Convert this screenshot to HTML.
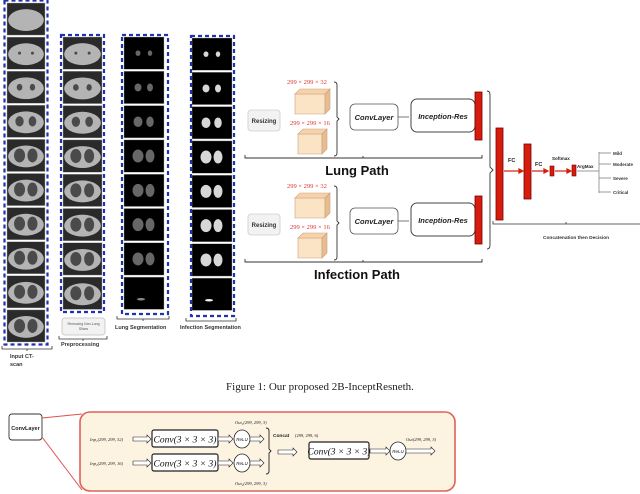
<!DOCTYPE html>
<html><head><meta charset="utf-8"><style>
body{margin:0;background:#fff}
svg{display:block}
text{font-family:"Liberation Sans",sans-serif}
.s{font-family:"Liberation Serif",serif}
</style></head><body>
<svg id="sv" width="640" height="494" viewBox="0 0 640 494" xmlns="http://www.w3.org/2000/svg">
<g id="tiles"></g>
<g fill="none" stroke="#2233aa" stroke-width="2.2" stroke-dasharray="4,3">
<rect x="4.5" y="0.5" width="43" height="344"/>
<rect x="61" y="35" width="43" height="277"/>
<rect x="122" y="35" width="46" height="279"/>
<rect x="191" y="36" width="43" height="280"/>
</g>
<rect x="62" y="318" width="43" height="17" rx="3" fill="#f2f2f2" stroke="#ccc"/>
<text x="83.5" y="325" font-size="3.5" text-anchor="middle" fill="#555">Removing Non-Lung</text>
<text x="83.5" y="330" font-size="3.5" text-anchor="middle" fill="#555">Slices</text>
<g fill="none" stroke="#333" stroke-width="0.8">
<path d="M2,346 v3 h50 v-3 M27,349 v2"/>
<path d="M59,336 v3 h48 v-3 M83,339 v2"/>
<path d="M117,316 v3 h52 v-3 M143,319 v2"/>
<path d="M186,318 v3 h50 v-3"/>
</g>
<g font-size="5.5" font-weight="bold" fill="#333">
<text x="10" y="358">Input CT-</text><text x="10" y="366">scan</text>
<text x="61" y="346">Preprocessing</text>
<text x="115" y="329">Lung Segmentation</text>
<text x="180" y="329">Infection Segmentation</text>
</g>

<g id="paths"></g>

<path d="M487,91 q3,0 3,4 v72 l3,3 l-3,3 v72 q0,4 -3,4" fill="none" stroke="#333" stroke-width="0.9"/>
<rect x="496" y="128" width="7" height="92" fill="#d61c0c" stroke="#700" stroke-width="0.8"/>
<rect x="524" y="144" width="7" height="55" fill="#d61c0c" stroke="#700" stroke-width="0.8"/>
<rect x="550" y="166" width="4" height="10" fill="#d61c0c" stroke="#700" stroke-width="0.6"/>
<rect x="572" y="165" width="4" height="11" fill="#d61c0c" stroke="#700" stroke-width="0.6"/>
<g stroke="#d61c0c" stroke-width="1.2" fill="#d61c0c">
<line x1="504" y1="171" x2="520" y2="171"/><path d="M523,171 l-4,-2 v4z"/>
<line x1="532" y1="171" x2="545" y2="171"/><path d="M548,171 l-4,-2 v4z"/>
<line x1="555" y1="171" x2="568" y2="171"/><path d="M571,171 l-4,-2 v4z"/>
</g>
<g font-size="5.5" font-weight="bold" fill="#222">
<text x="508" y="162">FC</text><text x="535" y="166">FC</text>
<text x="552" y="160" font-size="4.5">Softmax</text>
<text x="577" y="168" font-size="4.5">ArgMax</text>
</g>
<g stroke="#777" stroke-width="0.7" fill="none">
<path d="M577,171 h22 M599,152 v41 M599,153 h12 M599,164 h12 M599,178 h12 M599,192 h12"/>
</g>
<g font-size="4.5" font-weight="bold" fill="#333">
<text x="613" y="155">Mild</text><text x="613" y="166">Moderate</text>
<text x="613" y="180">Severe</text><text x="613" y="194">Critical</text>
</g>
<path d="M493,221 v3 h147 M566,224 v-2" fill="none" stroke="#333" stroke-width="0.8"/>
<text x="543" y="239" font-size="4.8" font-weight="bold" fill="#333">Concatenation then Decision</text>

<text class="s" x="320" y="390" font-size="11" text-anchor="middle" fill="#222">Figure 1: Our proposed 2B-InceptResneth.</text>

<rect x="9" y="414" width="33" height="26" rx="3" fill="#fff" stroke="#333" stroke-width="0.9"/>
<text x="25.5" y="430" font-size="5.5" font-weight="bold" text-anchor="middle" fill="#222">ConvLayer</text>
<path d="M42,418 L82,414 M42,437 L82,490" stroke="#d9534f" stroke-width="1"/>
<rect x="80" y="412" width="375" height="79" rx="10" fill="#fdf3e1" stroke="#e0605a" stroke-width="1.6"/>
<g id="bot"></g>
</svg>
<script>
var NS="http://www.w3.org/2000/svg";
function el(p,t,a,txt){var e=document.createElementNS(NS,t);for(var k in a)e.setAttribute(k,a[k]);if(txt)e.textContent=txt;p.appendChild(e);return e;}
var T=document.getElementById('tiles');
function col(x,w,y0,n,step,mode){
 for(var i=0;i<n;i++){var y=y0+i*step,h=step-2;
  el(T,'rect',{x:x,y:y,width:w,height:h,fill:mode==0?'#2a2a2a':'#000',stroke:'#aaa','stroke-width':0.4});
  var cx=x+w/2,cy=y+h/2;
  if(mode==0){el(T,'ellipse',{cx:cx,cy:cy+1,rx:w*0.47,ry:h*0.34,fill:'#b4b4b4'});
   if(!(x<20&&i==0)){var k=(x<20)?i-1:i;var s=Math.min(1,k/3);
   el(T,'ellipse',{cx:cx-w*0.17,cy:cy,rx:1.5+s*4,ry:1.5+s*5.5,fill:'#4a4a4a'});
   el(T,'ellipse',{cx:cx+w*0.17,cy:cy,rx:1.5+s*3.5,ry:1.5+s*5.5,fill:'#4a4a4a'});}}
  else{var s=Math.min(1,(i+1)/4);var c=mode==1?'#8a8a8a':'#eee';
   if(i<7){el(T,'ellipse',{cx:cx-w*0.15,cy:cy,rx:1.5+s*4,ry:1.5+s*5,fill:c,opacity:mode==1?0.75:0.9});
   el(T,'ellipse',{cx:cx+w*0.15,cy:cy,rx:1.5+s*3,ry:1.5+s*5,fill:c,opacity:mode==1?0.75:0.9});}
   else el(T,'ellipse',{cx:cx-3,cy:cy+6,rx:4,ry:1.2,fill:c});}
 }}
col(7,38,3,10,34.1,0);col(63,39,37,8,34.3,0);col(124,40,37,8,34.3,1);col(192,40,38,8,34.3,2);
var P=document.getElementById('paths');
function path(dy,name){
 el(P,'rect',{x:248,y:110+dy,width:32,height:21,rx:3,fill:'#f2f2f2',stroke:'#ccc','stroke-width':0.8});
 el(P,'text',{x:264,y:123+dy,'font-size':6,'text-anchor':'middle',fill:'#333','font-weight':'bold'},'Resizing');
 el(P,'text',{x:287,y:84+dy,'font-size':6.5,fill:'#d33',class:'s'},'299 × 299 × 32');
 el(P,'text',{x:290,y:125+dy,'font-size':6.5,fill:'#d33',class:'s'},'299 × 299 × 16');
 function cube(x,y,w,h,d){el(P,'path',{d:'M'+x+','+(y+d)+' h'+w+' v'+h+' h'+(-w)+'z',fill:'#fbe3c6',stroke:'#c9a27a','stroke-width':0.6});
  el(P,'path',{d:'M'+x+','+(y+d)+' l'+d+','+(-d)+' h'+w+' l'+(-d)+','+d+'z',fill:'#f6d2aa',stroke:'#c9a27a','stroke-width':0.6});
  el(P,'path',{d:'M'+(x+w)+','+(y+d)+' l'+d+','+(-d)+' v'+h+' l'+(-d)+','+d+'z',fill:'#e8bc90',stroke:'#c9a27a','stroke-width':0.6});}
 cube(295,89+dy,30,20,5);cube(298,129+dy,24,20,5);
 el(P,'path',{d:'M334,'+(82+dy)+' q3,0 3,3 v32 l2,2 l-2,2 v32 q0,3 -3,3',fill:'none',stroke:'#333','stroke-width':0.9});
 el(P,'rect',{x:350,y:104+dy,width:48,height:26,rx:5,fill:'#fff',stroke:'#555','stroke-width':0.8});
 el(P,'text',{x:374,y:120+dy,'font-size':7.5,'text-anchor':'middle','font-weight':'bold','font-style':'italic',fill:'#222'},'ConvLayer');
 el(P,'line',{x1:398,y1:117+dy,x2:409,y2:117+dy,stroke:'#555','stroke-width':0.8});
 el(P,'rect',{x:411,y:99+dy,width:64,height:33,rx:6,fill:'#fff',stroke:'#444','stroke-width':1});
 el(P,'text',{x:443,y:119+dy,'font-size':7.5,'text-anchor':'middle','font-weight':'bold','font-style':'italic',fill:'#222'},'Inception-Res');
 el(P,'rect',{x:475,y:92+dy,width:7,height:48,fill:'#d61c0c',stroke:'#700','stroke-width':0.8});
 el(P,'path',{d:'M245,'+(155+dy)+' v3 h237 v-3 M363,'+(158+dy)+' v-2',fill:'none',stroke:'#333','stroke-width':0.9});
 el(P,'text',{x:357,y:175+dy,'font-size':13,'text-anchor':'middle','font-weight':'bold',fill:'#111'},name);
}
path(0,'Lung Path');path(104,'Infection Path');
var B=document.getElementById('bot');
function darr(x1,x2,y){el(B,'path',{d:'M'+x1+','+(y-2)+' H'+(x2-4)+' v-2 l4,4 l-4,4 v-2 H'+x1+'z',fill:'#fff',stroke:'#222','stroke-width':0.6});}
function conv(x,y,w){el(B,'rect',{x:x,y:y,width:w,height:17,rx:2,fill:'#fff',stroke:'#222','stroke-width':1.2});
 el(B,'text',{x:x+w/2,y:y+12.5,'font-size':9.5,'font-style':'italic','text-anchor':'middle',class:'s',fill:'#111'},'Conv(3 × 3 × 3)');}
function relu(cx,cy){el(B,'ellipse',{cx:cx,cy:cy,rx:8,ry:9,fill:'#fff',stroke:'#222','stroke-width':0.8});
 el(B,'text',{x:cx,y:cy+2,'font-size':4.5,'text-anchor':'middle','font-style':'italic',fill:'#111'},'ReLU');}
[[439,'Inp₁(299, 299, 32)'],[463,'Inp₂(299, 299, 16)']].forEach(function(r){var y=r[0];
 el(B,'text',{x:90,y:y+2,'font-size':4.5,class:'s','font-style':'italic',fill:'#222'},r[1]);
 darr(133,151,y);conv(152,y-9,66);darr(218,233,y);relu(242,y);darr(250,264,y);});
el(B,'path',{d:'M266,428 q3,0 3,3 v18 l2,2 l-2,2 v18 q0,3 -3,3',fill:'none',stroke:'#222','stroke-width':0.9});
el(B,'text',{x:235,y:424,'font-size':4.5,class:'s','font-style':'italic',fill:'#222'},'Out₁(299, 299, 3)');
el(B,'text',{x:235,y:485,'font-size':4.5,class:'s','font-style':'italic',fill:'#222'},'Out₂(299, 299, 3)');
el(B,'text',{x:273,y:437,'font-size':4.8,'font-weight':'bold',fill:'#222'},'Concat');
el(B,'text',{x:295,y:437,'font-size':4.5,class:'s',fill:'#222'},'(299, 299, 6)');
darr(278,297,452);conv(309,442,60);darr(370,390,451);relu(398,451);darr(406,435,451);
el(B,'text',{x:406,y:441,'font-size':4.5,class:'s','font-style':'italic',fill:'#222'},'Out(299, 299, 3)');
</script>
</body></html>
